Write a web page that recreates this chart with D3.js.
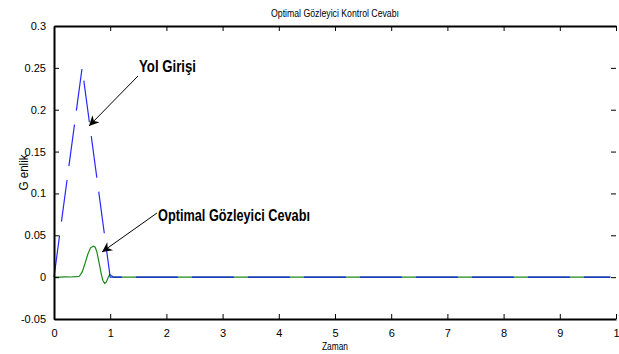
<!DOCTYPE html>
<html>
<head>
<meta charset="utf-8">
<script src="https://cdn.jsdelivr.net/npm/d3@7"></script>
<style>
  body { margin: 0; background: #fff; }
  text { font-family: "Liberation Sans Narrow", "Liberation Sans", Arial, sans-serif; }
</style>
</head>
<body>
<div id="chart"></div>
<script>
const width = 619,
  height = 354,
  margin = { top: 26, bottom: 35, left: 54, right: 3 };

// DATA
const xTicks = [0, 1, 2, 3, 4, 5, 6, 7, 8, 9, 10];
const xTickLabels = ["0", "1", "2", "3", "4", "5", "6", "7", "8", "9", "1"];
const yTicks = [-0.05, 0, 0.05, 0.1, 0.15, 0.2, 0.25, 0.3];
const yTickLabels = ["-0.05", "0", "0.05", "0.1", "0.15", "0.2", "0.25", "0.3"];

// road input (Yol Girişi)
const roadTime = [0, 0.5, 1.0, 9.9];
const roadValue = [0, 0.25, 0, 0];

// observer response (Optimal Gözleyici Cevabı)
const respTime = [0, 0.1, 0.2, 0.3, 0.4, 0.45, 0.5, 0.55, 0.6, 0.65, 0.7, 0.73, 0.76, 0.8, 0.84, 0.87, 0.9, 0.93, 0.96, 0.99, 1.02, 1.06, 1.2, 9.9];
const respValue = [0, 0, 0.0003, 0.0002, 0.0005, 0.001, 0.006, 0.016, 0.027, 0.035, 0.037, 0.036, 0.031, 0.018, 0.004, -0.004, -0.0075, -0.006, -0.001, 0.003, 0.002, 0, 0, 0];

const svg = d3.select("#chart")
  .append("svg")
  .attr("width", width)
  .attr("height", height);

// SCALES
const x = d3.scaleLinear()
  .domain([0, 10])
  .range([margin.left, width - margin.right]);

const y = d3.scaleLinear()
  .domain([-0.05, 0.3])
  .range([height - margin.bottom, margin.top]);

const x0 = x.range()[0], x1 = x.range()[1];
const y0 = y.range()[0], y1 = y.range()[1];

// LINES
const line = d3.line()
  .x(d => x(d[0]))
  .y(d => y(d[1]));

svg.append("path")
  .datum(d3.zip(respTime, respValue))
  .attr("d", line)
  .attr("fill", "none")
  .attr("stroke", "#1a8a1a")
  .attr("stroke-width", 1.2);

svg.append("path")
  .datum(d3.zip(roadTime, roadValue))
  .attr("d", line)
  .attr("fill", "none")
  .attr("stroke", "#0000ff")
  .attr("stroke-opacity", 0.85)
  .attr("stroke-width", 1.2)
  .attr("stroke-dasharray", "42,14");

// AXES (ticks inward, box on top, left, bottom)
const axisG = svg.append("g");

// bottom axis
axisG.append("g")
  .attr("transform", `translate(0,${y0})`)
  .call(d3.axisBottom(x).tickValues(xTicks).tickFormat((d, i) => xTickLabels[i]).tickSizeInner(-5).tickSizeOuter(0).tickPadding(10))
  .call(g => g.select(".domain").attr("stroke-width", 2));

// top axis
axisG.append("g")
  .attr("transform", `translate(0,${y1})`)
  .call(d3.axisTop(x).tickValues(xTicks).tickFormat("").tickSizeInner(-5).tickSizeOuter(0))
  .call(g => g.select(".domain").attr("stroke-width", 2));

// left axis
axisG.append("g")
  .attr("transform", `translate(${x0},0)`)
  .call(d3.axisLeft(y).tickValues(yTicks).tickFormat((d, i) => yTickLabels[i]).tickSizeInner(-5).tickSizeOuter(0).tickPadding(8))
  .call(g => g.select(".domain").attr("stroke-width", 2));

// right ticks only
axisG.append("g")
  .attr("transform", `translate(${x1},0)`)
  .call(d3.axisRight(y).tickValues(yTicks).tickFormat("").tickSizeInner(-5).tickSizeOuter(0))
  .call(g => g.select(".domain").remove());

axisG.selectAll(".tick text")
  .attr("font-size", 11)
  .attr("fill", "#000")
  .style("font-family", "'Liberation Sans Narrow', 'Liberation Sans', Arial, sans-serif");
axisG.selectAll(".tick line").attr("stroke", "#000");

// TITLES
svg.append("text")
  .attr("x", (x0 + x1) / 2)
  .attr("y", 17)
  .attr("text-anchor", "middle")
  .attr("font-size", 11)
  .attr("textLength", 128)
  .attr("lengthAdjust", "spacingAndGlyphs")
  .text("Optimal Gözleyici Kontrol Cevabı");

svg.append("text")
  .attr("x", (x0 + x1) / 2)
  .attr("y", 350)
  .attr("text-anchor", "middle")
  .attr("font-size", 11)
  .attr("textLength", 26)
  .attr("lengthAdjust", "spacingAndGlyphs")
  .text("Zaman");

svg.append("text")
  .attr("transform", `translate(28,${(y0 + y1) / 2}) rotate(-90)`)
  .attr("text-anchor", "middle")
  .attr("font-size", 12)
  .attr("textLength", 36)
  .attr("lengthAdjust", "spacingAndGlyphs")
  .text("G enlik");

// ANNOTATIONS
svg.append("defs").append("marker")
  .attr("id", "arrow")
  .attr("viewBox", "0 0 10 10")
  .attr("refX", 10)
  .attr("refY", 5)
  .attr("markerWidth", 14)
  .attr("markerHeight", 10)
  .attr("markerUnits", "userSpaceOnUse")
  .attr("orient", "auto")
  .append("path")
  .attr("d", "M0,0 L10,5 L0,10 L3,5 Z")
  .attr("fill", "#000");

const notes = [
  { text: "Yol Girişi", tx: 139, ty: 72, len: 57, from: [138, 76], to: [89, 126] },
  { text: "Optimal Gözleyici Cevabı", tx: 158, ty: 221, len: 152, from: [157, 213], to: [102, 252] }
];

notes.forEach(n => {
  svg.append("text")
    .attr("x", n.tx)
    .attr("y", n.ty)
    .attr("font-size", 16)
    .attr("font-weight", "bold")
    .attr("textLength", n.len)
    .attr("lengthAdjust", "spacingAndGlyphs")
    .text(n.text);
  svg.append("line")
    .attr("x1", n.from[0]).attr("y1", n.from[1])
    .attr("x2", n.to[0]).attr("y2", n.to[1])
    .attr("stroke", "#000")
    .attr("stroke-width", 1)
    .attr("marker-end", "url(#arrow)");
});
</script>
</body>
</html>
